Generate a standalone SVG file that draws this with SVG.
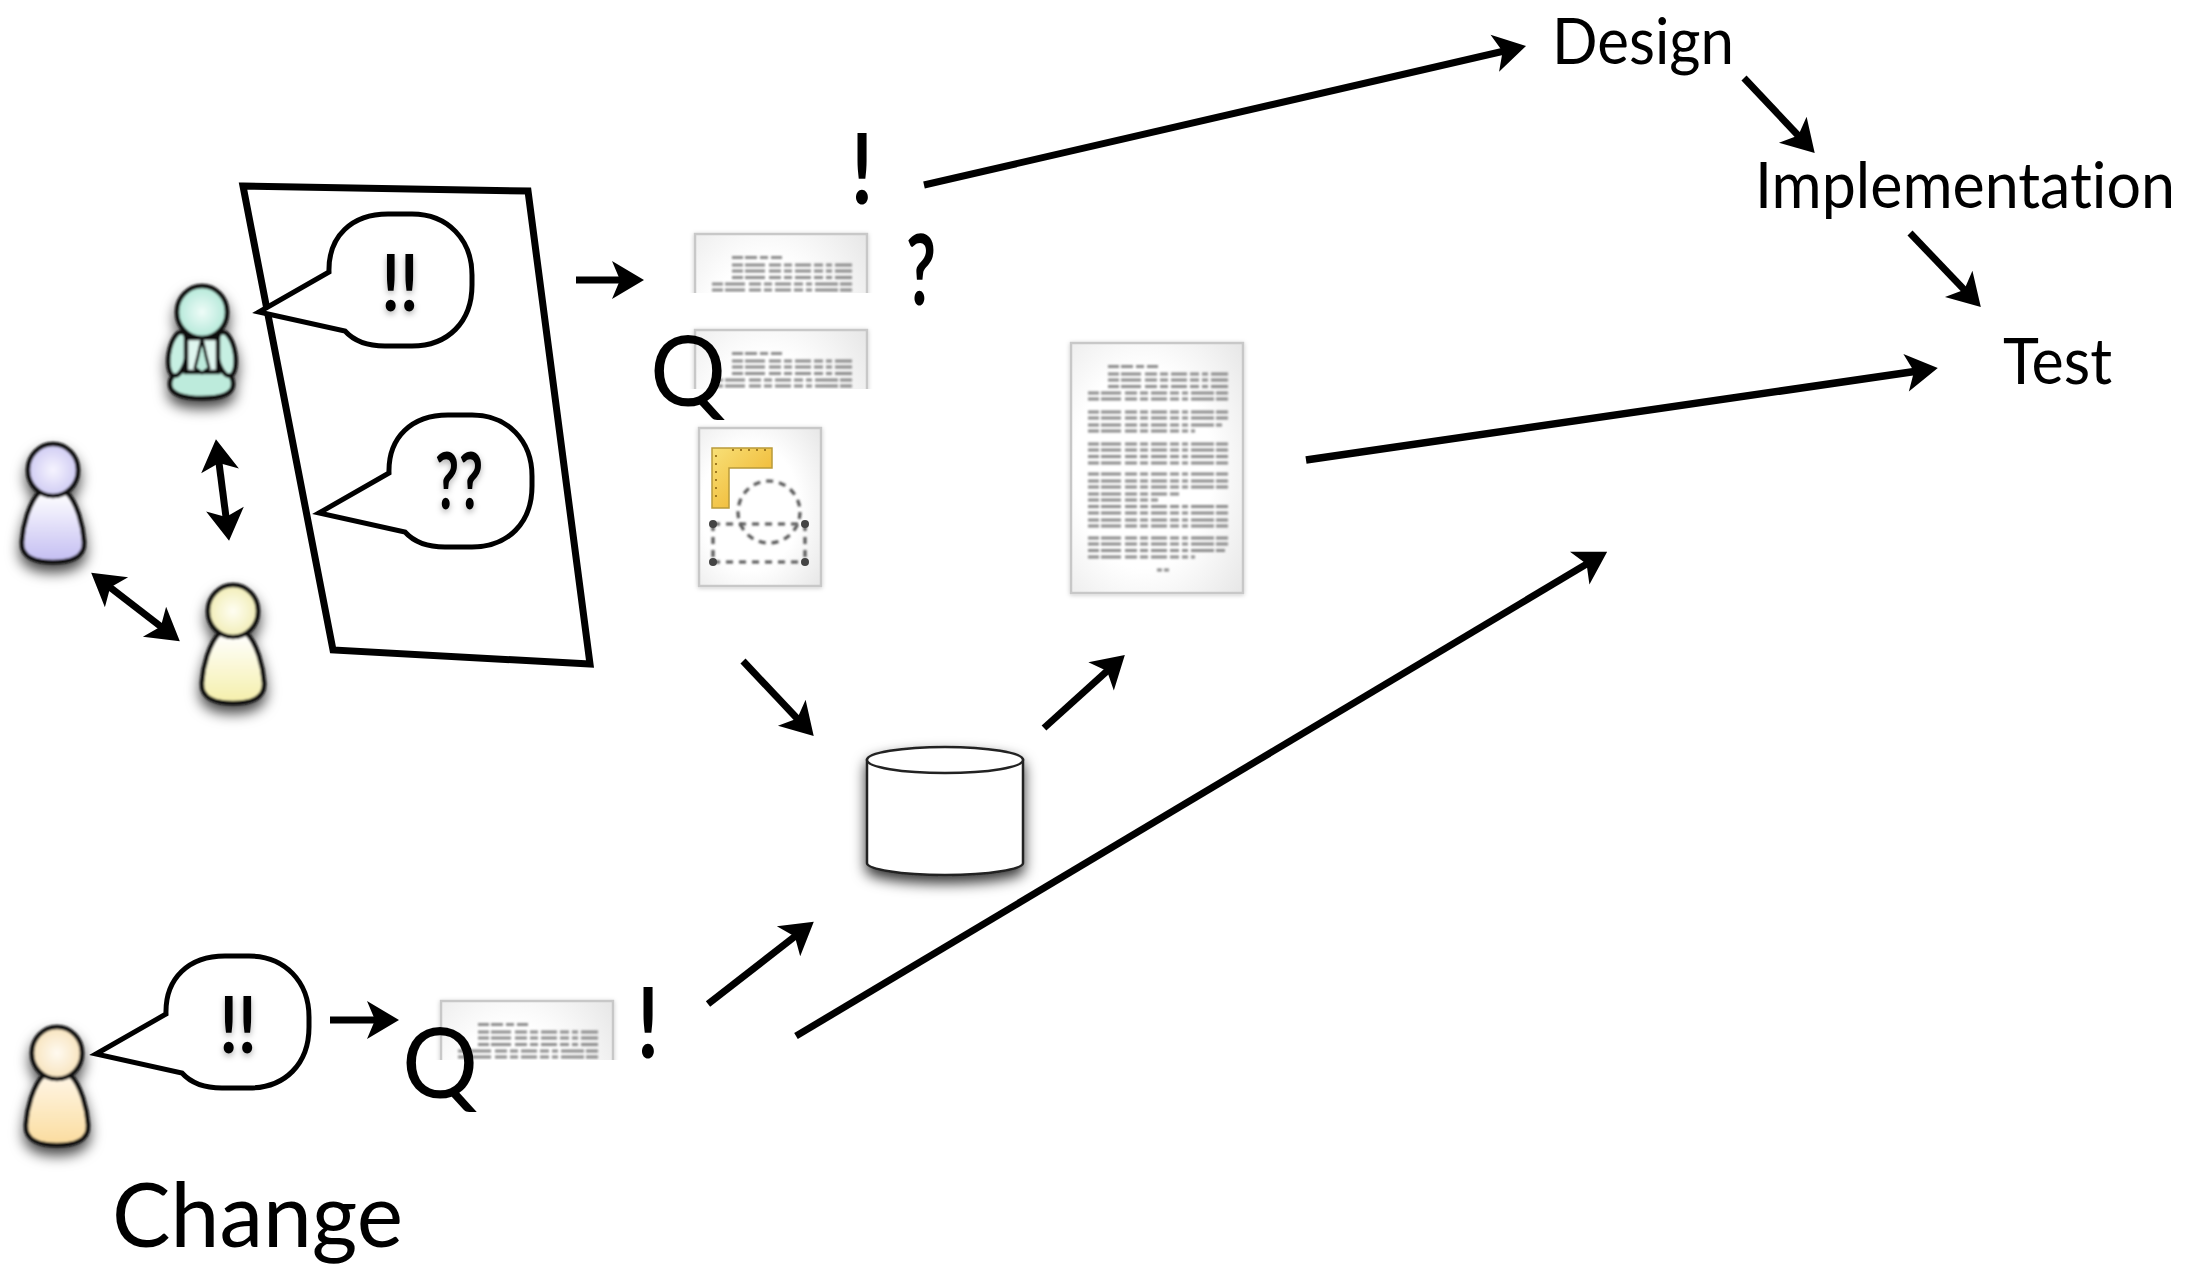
<svg xmlns="http://www.w3.org/2000/svg" width="2186" height="1273" viewBox="0 0 2186 1273">
<style>
text{font-family:Lato,"Open Sans","Liberation Sans",sans-serif;fill:#000;font-variant-ligatures:none}
.l{font-size:63px}
.q{font-size:96px}
.m{font-size:98px;font-weight:700}
.b{font-size:78px;font-weight:700;filter:url(#soft)}
.a{fill:none;stroke:#000;stroke-width:7}
.bub{fill:#fff;stroke:#000;stroke-width:5;stroke-linejoin:miter}
.p{stroke:#111;stroke-width:4.5}
.tl{fill:none;stroke:#8c8c8c;stroke-width:2.8;stroke-dasharray:11 2 20 4 12 3 8 3 16 3 9 3 6 3 12 0;filter:url(#blur)}
.dp{fill:url(#page);stroke:#c8c8c8;stroke-width:2.500}
.dot{fill:#444}
.dash{fill:none;stroke:#555;stroke-width:3.200;stroke-dasharray:7 6;filter:url(#s1)}
</style>
<defs>
<filter id="blur" x="-5%" y="-5%" width="110%" height="110%"><feGaussianBlur stdDeviation="1.100"/></filter>
<filter id="s1"><feGaussianBlur stdDeviation="0.8"/></filter>
<filter id="soft" x="-30%" y="-30%" width="160%" height="170%"><feDropShadow dx="0" dy="3" stdDeviation="3" flood-color="#000" flood-opacity=".3"/></filter>
<filter id="ps" x="-60%" y="-30%" width="220%" height="170%"><feGaussianBlur in="SourceGraphic" stdDeviation="1" result="g"/><feDropShadow in="g" dx="0" dy="8" stdDeviation="7" flood-color="#000" flood-opacity=".75"/></filter>
<filter id="cs" x="-20%" y="-20%" width="140%" height="150%"><feDropShadow dx="0" dy="7" stdDeviation="7" flood-color="#000" flood-opacity=".8"/></filter>
<filter id="ds" x="-10%" y="-10%" width="120%" height="120%"><feDropShadow dx="0" dy="1" stdDeviation="2" flood-color="#000" flood-opacity=".2"/></filter>
<radialGradient id="page" cx="42%" cy="50%" r="80%"><stop offset="0.5" stop-color="#fff"/><stop offset="1" stop-color="#e4e4e4"/></radialGradient>
<linearGradient id="rul" x1="0" y1="0" x2="1" y2="1"><stop offset="0" stop-color="#f8e078"/><stop offset="1" stop-color="#eeae22"/></linearGradient>
<linearGradient id="bb" x1="0" y1="0" x2="0" y2="1"><stop offset="0" stop-color="#fff"/><stop offset="1" stop-color="#c3bdf2"/></linearGradient>
<linearGradient id="by" x1="0" y1="0" x2="0" y2="1"><stop offset="0" stop-color="#fff"/><stop offset="1" stop-color="#f5efaa"/></linearGradient>
<linearGradient id="bo" x1="0" y1="0" x2="0" y2="1"><stop offset="0" stop-color="#fff6e6"/><stop offset="1" stop-color="#fbdc9e"/></linearGradient>
<radialGradient id="hb"><stop offset="0" stop-color="#f6f4ff"/><stop offset="1" stop-color="#cfcbf3"/></radialGradient>
<radialGradient id="hy"><stop offset="0" stop-color="#fffef2"/><stop offset="1" stop-color="#f1edb6"/></radialGradient>
<radialGradient id="ho"><stop offset="0" stop-color="#fffaf0"/><stop offset="1" stop-color="#f7e3bd"/></radialGradient>
<radialGradient id="ht"><stop offset="0" stop-color="#eefcf8"/><stop offset="1" stop-color="#b3e8d8"/></radialGradient>
<path id="bubble" class="bub" d="M259,312 L329,272 C328,236 352,214 388,214 L412,214 C448,214 472,240 472,275 L472,285 C472,322 448,346 412,346 L385,346 C367,346 354,341 345,331 Z"/>
<path id="bodyShape" d="M-13,22 C-24,32 -30,56 -31,72 C-32,88 -16,92 0,92 C16,92 32,88 31,72 C30,56 24,32 13,22 Z"/>
<marker id="ah" viewBox="-14 -20 36 40" refX="0" refY="0" markerWidth="36" markerHeight="40" markerUnits="userSpaceOnUse" orient="auto" overflow="visible"><path d="M-12,-19 L20,0 L-12,19 L-4,0 Z" fill="#000"/></marker>
<marker id="as" viewBox="-14 -20 36 40" refX="0" refY="0" markerWidth="36" markerHeight="40" markerUnits="userSpaceOnUse" orient="auto-start-reverse" overflow="visible"><path d="M-12,-19 L20,0 L-12,19 L-4,0 Z" fill="#000"/></marker>
<clipPath id="top"><rect x="-6" y="-12" width="186" height="72"/></clipPath>
<g id="sheet">
<rect class="dp" x="1" y="1" width="172" height="250" filter="url(#ds)"/>
<g class="tl">
<path d="M38,24.500H88" stroke-dasharray="11 2 12 3 8 3 12 0"/>
<path d="M38,32H158M38,38H158M38,44.500H158M18,51H158M18,57H158"/>
<path d="M18,70H158M18,76H158M18,83H152M18,89H125"/>
<path d="M18,102H158M18,108H158M18,114.500H158M18,121H158"/>
<path d="M18,132H158M18,139H158M18,145H158M18,152H112M18,158H88M18,164.500H158M18,171H158M18,178H158M18,184H158"/>
<path d="M18,196H158M18,202H158M18,208.500H155M18,215H125"/>
<path d="M87,228H99" stroke-dasharray="5 2"/>
</g>
</g>
</defs>
<rect width="2186" height="1273" fill="#fff"/>

<g id="box"><path d="M243,186 L528,191 L590,664 L333,650 Z" fill="none" stroke="#000" stroke-width="7"/></g>

<g id="person-teal" filter="url(#ps)">
<path class="p" fill="#bdebdc" d="M170,384 C170,372 184,369 202,369 C220,369 233,372 233,384 C233,394 220,398 202,398 C184,398 170,394 170,384 Z"/>
<ellipse class="p" fill="#c6efe2" cx="178" cy="354" rx="9" ry="22" transform="rotate(10 178 354)"/>
<ellipse class="p" fill="#c6efe2" cx="226" cy="354" rx="9" ry="22" transform="rotate(-10 226 354)"/>
<path class="p" fill="#dff6ef" d="M186,338 L218,338 L218,372 L186,372 Z"/>
<path fill="#bdebdc" stroke="#111" stroke-width="3" d="M202,338 L206,356 L209,368 L202,373 L195,368 L198,356 Z"/>
<ellipse class="p" fill="url(#ht)" cx="202" cy="312" rx="25" ry="26"/>
</g>
<g id="person-blue" filter="url(#ps)">
<use href="#bodyShape" class="p" fill="url(#bb)" transform="translate(53,470)"/>
<ellipse class="p" fill="url(#hb)" cx="53" cy="470" rx="25" ry="26"/>
</g>
<g id="person-yellow" filter="url(#ps)">
<use href="#bodyShape" class="p" fill="url(#by)" transform="translate(233,611)"/>
<ellipse class="p" fill="url(#hy)" cx="233" cy="611" rx="25" ry="26"/>
</g>
<g id="person-orange" filter="url(#ps)">
<use href="#bodyShape" class="p" fill="url(#bo)" transform="translate(57,1053)"/>
<ellipse class="p" fill="url(#ho)" cx="57" cy="1053" rx="25" ry="26"/>
</g>

<g id="bubble-1"><use href="#bubble"/><text class="b" x="400" y="311" text-anchor="middle" textLength="37" lengthAdjust="spacingAndGlyphs">!!</text></g>
<g id="bubble-2"><use href="#bubble" transform="translate(60,201)"/><text class="b" x="459" y="509" text-anchor="middle" textLength="48" lengthAdjust="spacingAndGlyphs">??</text></g>
<g id="bubble-3"><use href="#bubble" transform="translate(-163,742)"/><text class="b" x="238" y="1053" text-anchor="middle" textLength="37" lengthAdjust="spacingAndGlyphs">!!</text></g>

<g id="doc-1" transform="translate(694,233)"><g clip-path="url(#top)"><use href="#sheet"/></g></g>
<g id="doc-2" transform="translate(694,329)"><g clip-path="url(#top)"><use href="#sheet"/></g></g>
<g id="doc-3" transform="translate(440,1000)"><g clip-path="url(#top)"><use href="#sheet"/></g></g>
<g id="doc-big" transform="translate(1070,342)"><use href="#sheet"/></g>

<g id="doc-ruler">
<rect class="dp" x="699" y="428" width="122" height="158" filter="url(#ds)"/>
<path d="M712,448 H772 V468 H729 V508 H712 Z" fill="url(#rul)" stroke="#b99a3a" stroke-width="1.500"/>
<path d="M716,455v48M732,450h38" stroke="#a07a20" stroke-width="2" stroke-dasharray="2 6" fill="none"/>
<circle class="dash" cx="769" cy="512" r="31"/>
<path class="dash" d="M713,524H805M713,562H805M713,524V562M805,524V562"/>
<g class="dot"><circle cx="713" cy="524" r="4"/><circle cx="805" cy="524" r="4"/><circle cx="713" cy="562" r="4"/><circle cx="805" cy="562" r="4"/></g>
</g>

<g id="database" filter="url(#cs)">
<path d="M867,760 V863 C867,869 900,875 945,875 C990,875 1023,869 1023,863 V760 Z" fill="#fff" stroke="#222" stroke-width="2.500"/>
<ellipse cx="945" cy="760" rx="78" ry="13" fill="#fff" stroke="#222" stroke-width="2.500"/>
</g>

<g id="connectors">
<path class="a" marker-end="url(#ah)" d="M924,185L1506.500,50.500"/>
<path class="a" marker-end="url(#ah)" d="M1744,78L1801,138.500"/>
<path class="a" marker-end="url(#ah)" d="M1910,233L1967,292.600"/>
<path class="a" style="stroke-width:7.500" marker-end="url(#ah)" d="M1306,460L1918,371"/>
<path class="a" marker-end="url(#ah)" d="M576,280L624,280"/>
<path class="a" marker-end="url(#ah)" d="M743,661L800,721.500"/>
<path class="a" marker-end="url(#ah)" d="M1044,728L1110,668.400"/>
<path class="a" marker-end="url(#ah)" d="M708,1004L798,934"/>
<path class="a" marker-end="url(#ah)" d="M796,1036L1590,562"/>
<path class="a" marker-end="url(#ah)" d="M330,1020L379,1020"/>
<path class="a" marker-start="url(#as)" marker-end="url(#as)" d="M218.500,459L226.500,521"/>
<path class="a" marker-start="url(#as)" marker-end="url(#as)" d="M107,585L164,629"/>
</g>

<g id="labels">
<text class="l" x="1552" y="64" textLength="182" lengthAdjust="spacingAndGlyphs">Design</text>
<text class="l" x="1755" y="208" textLength="420" lengthAdjust="spacingAndGlyphs">Implementation</text>
<text class="l" x="2003" y="384" textLength="109" lengthAdjust="spacingAndGlyphs">Test</text>
<text x="112" y="1247" font-size="90" textLength="291" lengthAdjust="spacingAndGlyphs">Change</text>
<text class="q" x="650" y="406" textLength="76" lengthAdjust="spacingAndGlyphs">Q</text>
<text class="q" x="402" y="1098" textLength="76" lengthAdjust="spacingAndGlyphs">Q</text>
<text class="m" x="862" y="204" text-anchor="middle" textLength="22" lengthAdjust="spacingAndGlyphs">!</text>
<text class="m" x="921" y="305" text-anchor="middle" textLength="30" lengthAdjust="spacingAndGlyphs">?</text>
<text class="m" x="648" y="1058" text-anchor="middle" textLength="22" lengthAdjust="spacingAndGlyphs">!</text>
</g>
</svg>
